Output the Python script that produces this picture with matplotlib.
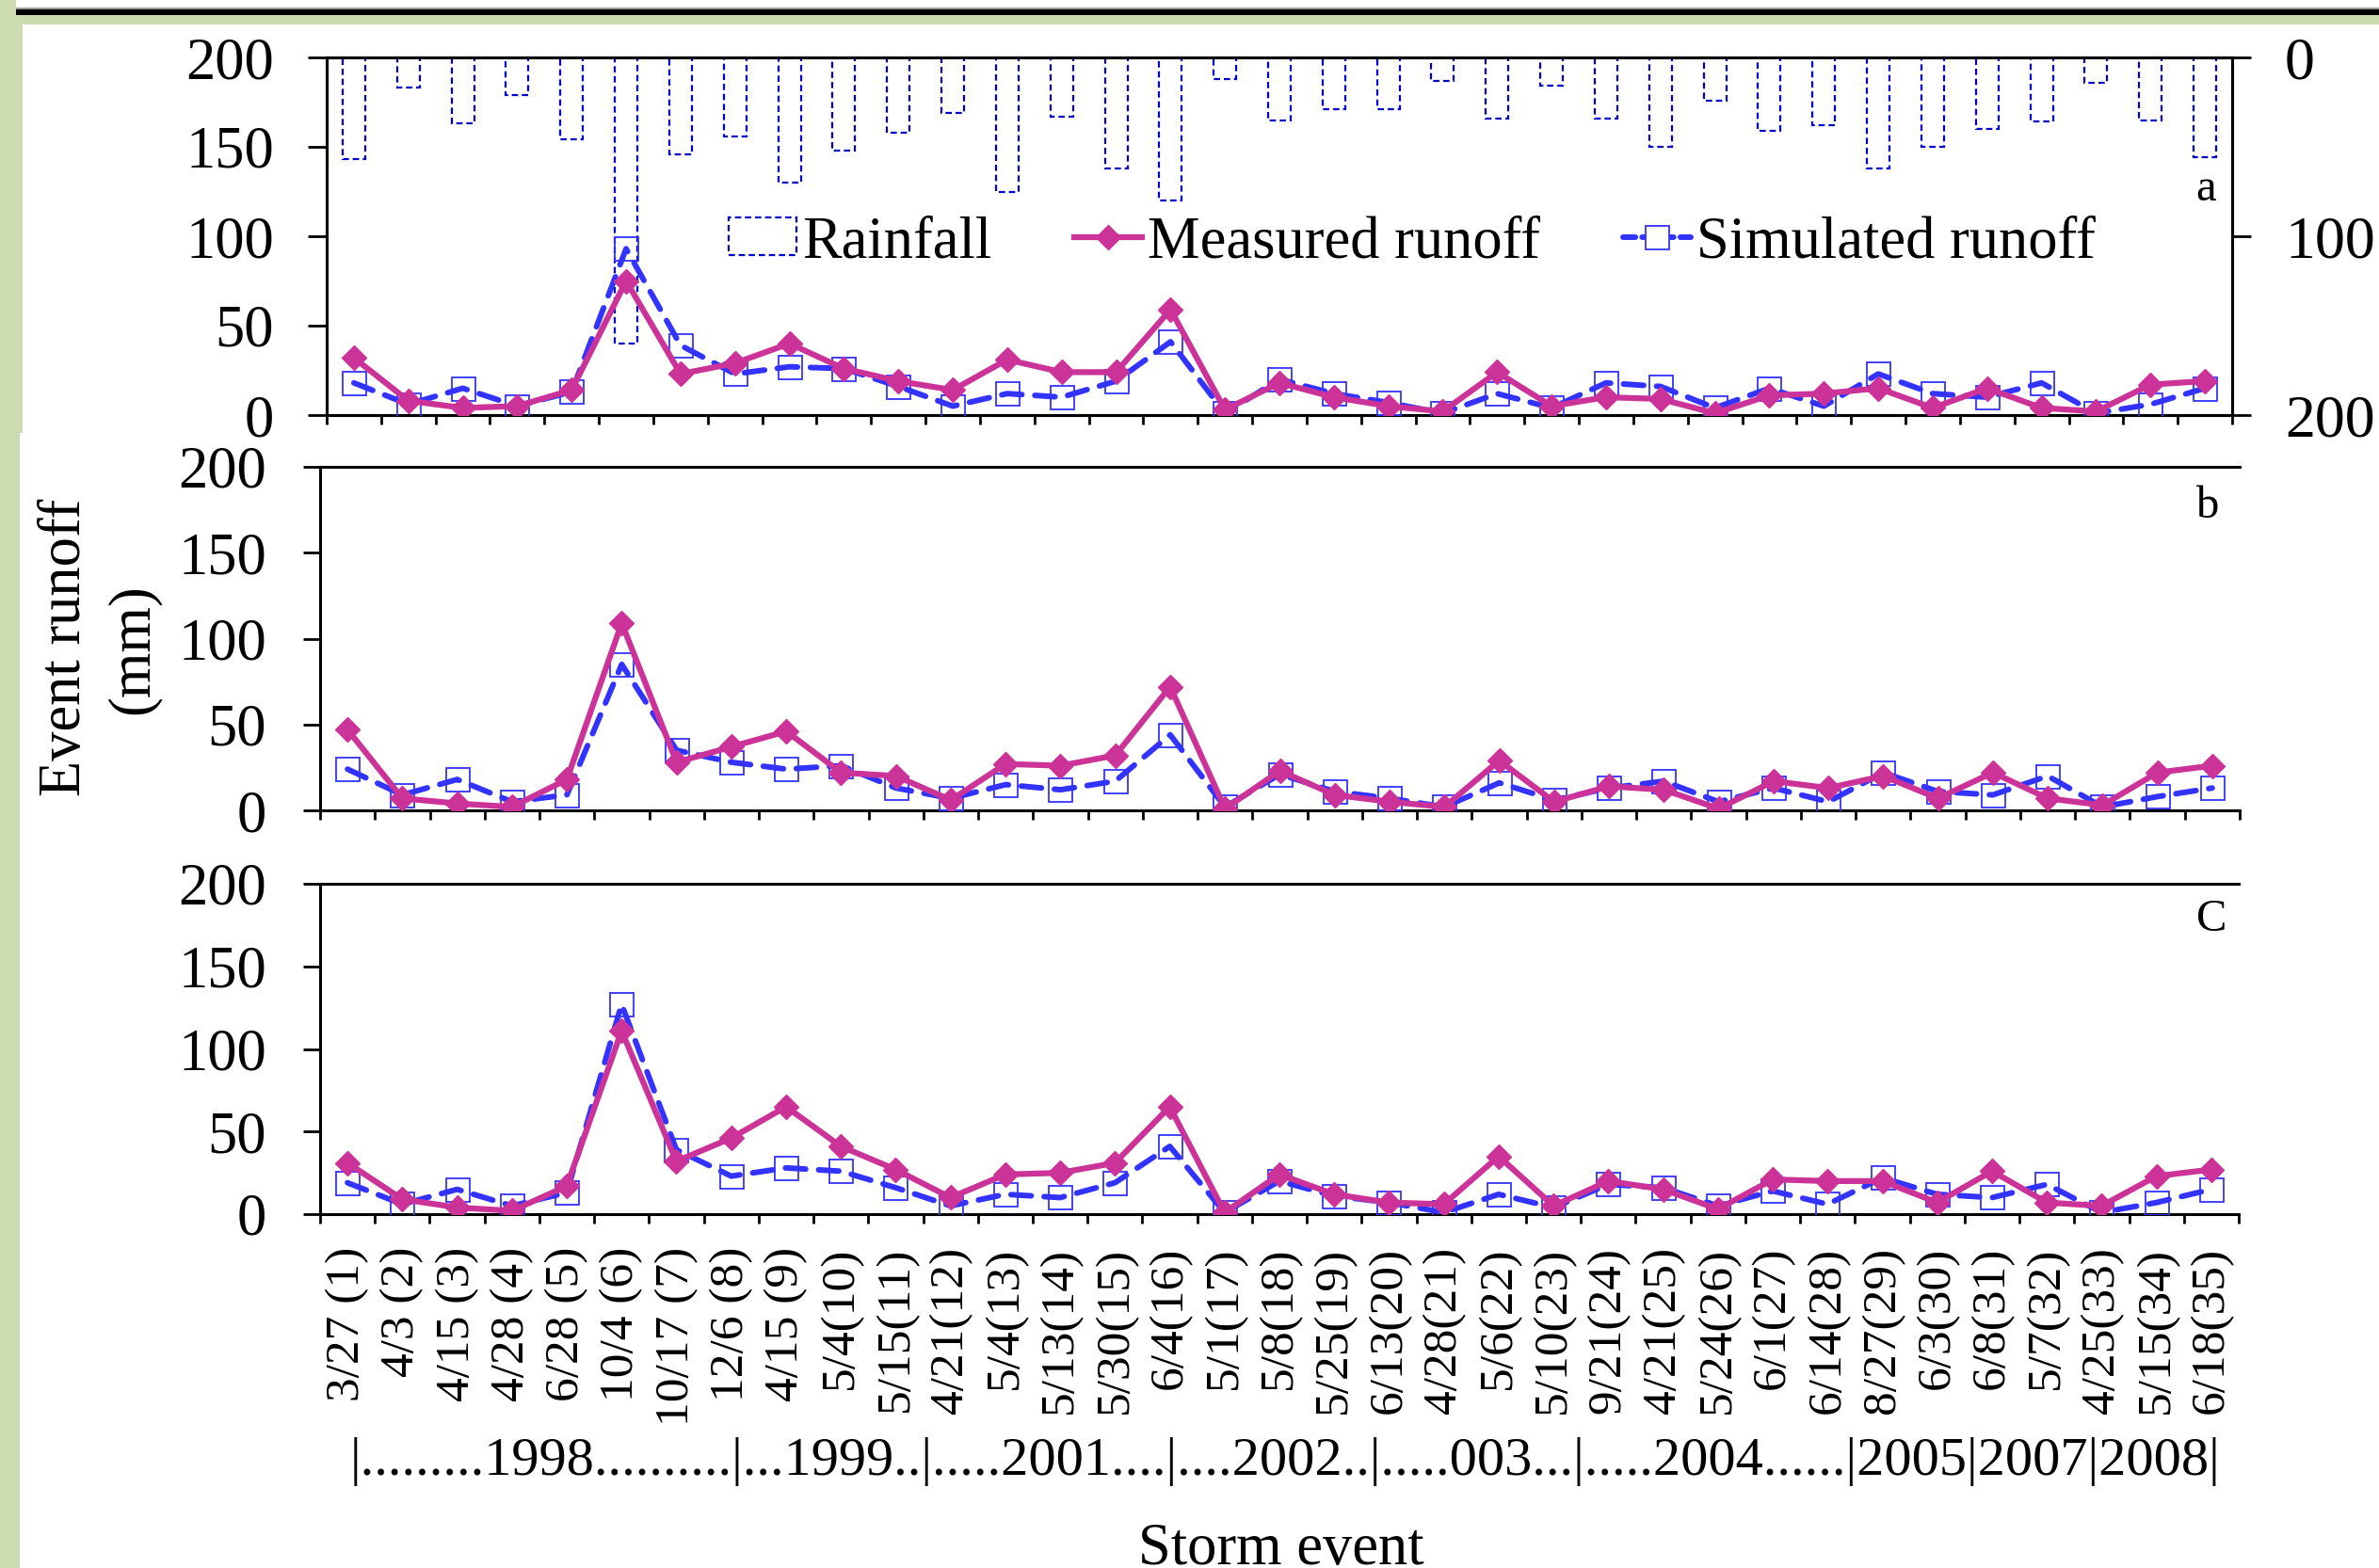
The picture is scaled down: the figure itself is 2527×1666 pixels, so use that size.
import numpy as np
import matplotlib
matplotlib.use("Agg")
import matplotlib.pyplot as plt
from matplotlib.patches import Rectangle, Patch
from matplotlib.lines import Line2D

plt.rcParams["font.family"] = ["Liberation Serif", "DejaVu Serif"]

# ---- data -------------------------------------------------------------
events = ["3/27 (1)", "4/3 (2)", "4/15 (3)", "4/28 (4)", "6/28 (5)", "10/4 (6)",
          "10/17 (7)", "12/6 (8)", "4/15 (9)", "5/4(10)", "5/15(11)", "4/21(12)",
          "5/4(13)", "5/13(14)", "5/30(15)", "6/4(16)", "5/1(17)", "5/8(18)",
          "5/25(19)", "6/13(20)", "4/28(21)", "5/6(22)", "5/10(23)", "9/21(24)",
          "4/21(25)", "5/24(26)", "6/1(27)", "6/14(28)", "8/27(29)", "6/3(30)",
          "6/8(31)", "5/7(32)", "4/25(33)", "5/15(34)", "6/18(35)"]

year_line = "|.........1998..........|...1999..|.....2001....|....2002..|.....003...|.....2004......|2005|2007|2008|"

rainfall = [57, 17, 37, 21, 46, 160, 54, 44, 70, 52, 42, 31, 75, 33, 62, 80, 12, 35,
            29, 29, 13, 34, 16, 34, 50, 24, 41, 38, 62, 50, 40, 36, 14, 35, 56]

measured_a = [32, 8, 4, 5, 14, 75, 23, 29, 40, 26, 19, 14, 31, 24, 24, 59, 3, 18,
              10, 5, 2, 24, 5, 10, 9, 1, 11, 12, 15, 4, 15, 4, 2, 17, 19]
simulated_a = [18, 6, 15, 5, 13, 93, 39, 23, 27, 26, 16, 5, 12, 10, 19, 41, 1, 20,
               12, 7, 1, 12, 4, 18, 16, 4, 15, 5, 23, 12, 10, 18, 1, 6, 15]

measured_b = [47, 7, 4, 2, 18, 109, 28, 37, 46, 22, 20, 6, 27, 26, 32, 72, 1, 23,
              9, 5, 2, 29, 5, 14, 12, 1, 17, 13, 20, 7, 22, 7, 3, 22, 26]
simulated_b = [24, 9, 18, 5, 9, 85, 35, 28, 24, 26, 13, 7, 15, 12, 17, 44, 2, 21,
               11, 7, 2, 16, 6, 13, 17, 5, 13, 5, 22, 11, 9, 20, 2, 8, 13]

measured_c = [31, 9, 4, 2, 17, 111, 32, 46, 65, 41, 27, 10, 24, 25, 31, 65, 1, 24,
              12, 7, 6, 35, 5, 20, 15, 3, 21, 20, 20, 7, 26, 7, 5, 23, 27]
simulated_c = [19, 6, 15, 5, 13, 127, 39, 23, 28, 26, 16, 5, 12, 10, 19, 41, 1, 20,
               11, 7, 1, 12, 4, 18, 16, 5, 14, 6, 22, 12, 10, 18, 1, 7, 15]

# ---- styles -------------------------------------------------------------
MEAS_COLOR = "#CC3399"
SIM_COLOR = "#3333FF"
RAIN_COLOR = "#0000CC"
FRAME_GREEN = "#CDDCB0"
SIM_DASH = (0, (3.6, 2.3))

W, H = 2527, 1666
fig = plt.figure(figsize=(W / 100, H / 100), dpi=100)
fig.patch.set_facecolor(FRAME_GREEN)


def px_box(l, t, r, b):
    return [l / W, 1 - b / H, (r - l) / W, (b - t) / H]


def add_rect(l, t, r, b, color):
    fig.add_artist(Rectangle((l / W, 1 - b / H), (r - l) / W, (b - t) / H,
                             transform=fig.transFigure, facecolor=color,
                             edgecolor="none", zorder=-5))


# page frame
add_rect(17, 0, W, 8, "white")
add_rect(17, 8, W, 10, "#9a9a9a")
add_rect(17, 10, W, 16, "black")
add_rect(24, 26, W, 460, "white")
add_rect(21, 460, W, H, "white")

x = np.arange(len(events))


def style_axes(ax, tick_len, tick_pad):
    ax.set_xlim(-0.5, len(events) - 0.5)
    ax.set_ylim(0, 200)
    ax.set_yticks(range(0, 201, 50))
    ax.set_xticks(np.arange(-0.5, len(events), 1.0))
    ax.tick_params(axis="x", which="major", direction="out", length=7, width=2,
                   labelbottom=False)
    ax.tick_params(axis="y", direction="out", length=tick_len, width=2,
                   pad=tick_pad, labelsize=45)
    for s in ax.spines.values():
        s.set_linewidth(2.2)


def draw_runoff(ax, measured, simulated):
    ax.plot(x, simulated, color=SIM_COLOR, lw=4.3, linestyle=SIM_DASH,
            dash_capstyle="round", marker="s", ms=18, mfc="none",
            mec=SIM_COLOR, mew=1.3, zorder=3)
    ax.plot(x, measured, color=MEAS_COLOR, lw=4.5, marker="D", ms=13,
            mec=MEAS_COLOR, zorder=4)


# ---- panel a -----------------------------------------------------------
ax_a = fig.add_axes(px_box(347, 61, 2371, 441))
style_axes(ax_a, 14.4, 26)
ax_r = ax_a.twinx()
ax_r.set_ylim(200, 0)
ax_r.set_yticks([0, 100, 200])
ax_r.tick_params(axis="y", direction="out", length=14.4, width=2, pad=26,
                 labelsize=46)
for s in ax_r.spines.values():
    s.set_linewidth(2.2)
ax_r.bar(x, rainfall, width=0.415, fill=False, edgecolor=RAIN_COLOR, lw=1.6,
         linestyle=(0, (3, 1.8)))
ax_r.patch.set_visible(False)
ax_a.set_zorder(ax_r.get_zorder() + 1)
ax_a.patch.set_visible(False)
draw_runoff(ax_a, measured_a, simulated_a)

handles = [
    Patch(facecolor="white", edgecolor=RAIN_COLOR, lw=1.6, linestyle=(0, (3, 1.8))),
    Line2D([], [], color=MEAS_COLOR, lw=4.5, marker="D", ms=13, mec=MEAS_COLOR),
    Line2D([], [], color=SIM_COLOR, lw=4.3, linestyle=(0, (2.2, 1.2)),
           dash_capstyle="round", marker="s", ms=18, mfc="white",
           mec=SIM_COLOR, mew=1.3),
]
ax_a.legend(handles, ["Rainfall", "Measured runoff", "Simulated runoff"],
            loc="center", bbox_to_anchor=(1500 / W, 1 - 258 / H),
            bbox_transform=fig.transFigure, ncol=3, frameon=False, fontsize=45,
            handlelength=1.15, handleheight=0.6, handletextpad=0.1,
            columnspacing=1.4, borderpad=0, borderaxespad=0, numpoints=1)

# ---- panel b -----------------------------------------------------------
ax_b = fig.add_axes(px_box(340, 496, 2379, 861))
style_axes(ax_b, 13, 28)
ax_b.spines["right"].set_visible(False)
draw_runoff(ax_b, measured_b, simulated_b)

# ---- panel c -----------------------------------------------------------
ax_c = fig.add_axes(px_box(340, 939, 2378, 1290))
style_axes(ax_c, 13, 28)
ax_c.spines["right"].set_visible(False)
draw_runoff(ax_c, measured_c, simulated_c)
ax_c.set_xticks(x, events, minor=True, rotation=90, fontsize=37)
ax_c.tick_params(axis="x", which="minor", length=0, pad=25)

# ---- panel letters and titles -----------------------------------------
fig.text(2343 / W, 1 - 213 / H, "a", ha="center", va="baseline", fontsize=35)
fig.text(2345 / W, 1 - 550 / H, "b", ha="center", va="baseline", fontsize=35)
fig.text(2349 / W, 1 - 989 / H, "C", ha="center", va="baseline", fontsize=35)

fig.text(70 / W, 1 - 688 / H, "Event runoff", rotation=90, ha="center",
         va="center", fontsize=45)
fig.text(142 / W, 1 - 690 / H, "(mm)", rotation=90, ha="center",
         va="center", fontsize=45)
# secondary-axis title, running off the right edge of the page
fig.text(2536 / W, 1 - 250 / H, "Rainfall (mm)", rotation=90, ha="left",
         va="center", fontsize=40)

fig.text(372 / W, 1 - 1567 / H, year_line, ha="left", va="baseline", fontsize=42)
fig.text(1361 / W, 1 - 1662 / H, "Storm event", ha="center", va="baseline",
         fontsize=45)

fig.savefig("out.png", dpi=100, facecolor=fig.get_facecolor())
